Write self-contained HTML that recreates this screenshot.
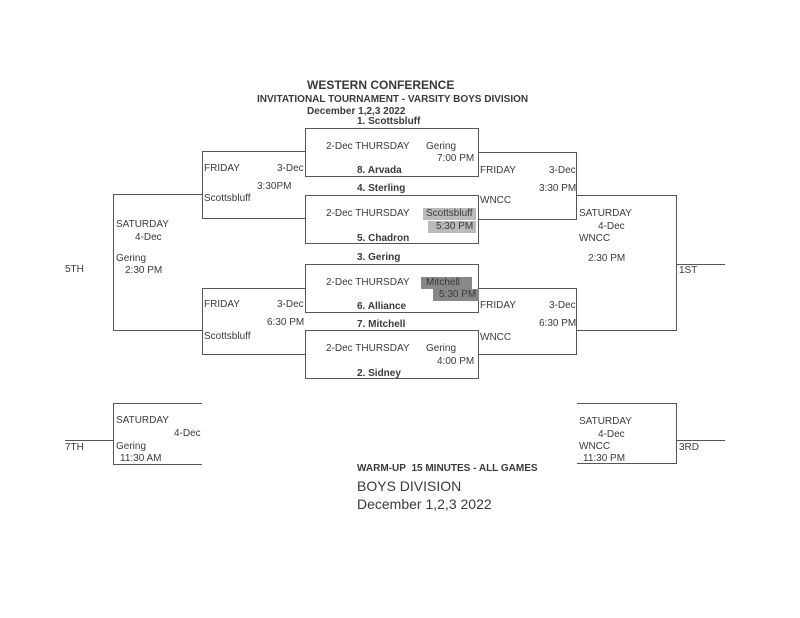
<!DOCTYPE html>
<html><head><meta charset="utf-8"><style>
body{margin:0;width:800px;height:618px;background:#fff;position:relative;overflow:hidden;font-family:"Liberation Sans",Arial,sans-serif;color:#3a3a3a;font-size:10px}
.b{position:absolute;border:1.3px solid #555;box-sizing:border-box}
.l{position:absolute;background:#555}
.t{position:absolute;white-space:nowrap;line-height:1}
.bd{font-weight:bold}
.hl{background:#bbb}
.hd{background:#888}
</style></head><body>
<div class="t bd" style="left:307px;top:79px;font-size:12px">WESTERN CONFERENCE</div>
<div class="t bd" style="left:257px;top:95px;font-size:10px">INVITATIONAL TOURNAMENT - VARSITY BOYS DIVISION</div>
<div class="t bd" style="left:307px;top:107px;font-size:10px">December 1,2,3 2022</div>

<div class="b" style="left:305px;top:128px;width:174px;height:49px"></div>
<div class="b" style="left:305px;top:195px;width:174px;height:49px"></div>
<div class="b" style="left:305px;top:264px;width:174px;height:49px"></div>
<div class="b" style="left:305px;top:330px;width:174px;height:49px"></div>

<div class="t bd" style="left:357px;top:117px;font-size:10px">1. Scottsbluff</div>
<div class="t bd" style="left:357px;top:166px;font-size:10px">8. Arvada</div>
<div class="t bd" style="left:357px;top:184px;font-size:10px">4. Sterling</div>
<div class="t bd" style="left:357px;top:234px;font-size:10px">5. Chadron</div>
<div class="t bd" style="left:357px;top:253px;font-size:10px">3. Gering</div>
<div class="t bd" style="left:357px;top:302px;font-size:10px">6. Alliance</div>
<div class="t bd" style="left:357px;top:320px;font-size:10px">7. Mitchell</div>
<div class="t bd" style="left:357px;top:369px;font-size:10px">2. Sidney</div>

<div class="t" style="left:326px;top:142px">2-Dec THURSDAY</div>
<div class="t" style="left:426px;top:142px">Gering</div>
<div class="t" style="left:437px;top:154px">7:00 PM</div>
<div class="t" style="left:326px;top:209px">2-Dec THURSDAY</div>
<div class="t hl" style="left:423px;top:208px;padding:1px 3px">Scottsbluff</div>
<div class="t hl" style="left:428px;top:221px;padding:1px 3px 1px 8px">5:30 PM</div>
<div class="t" style="left:326px;top:278px">2-Dec THURSDAY</div>
<div class="t hd" style="left:421px;top:277px;padding:1px 12px 1px 5px">Mitchell</div>
<div class="t hd" style="left:433px;top:289px;padding:1px 3px 1px 6px">5:30 PM</div>
<div class="t" style="left:326px;top:344px">2-Dec THURSDAY</div>
<div class="t" style="left:426px;top:344px">Gering</div>
<div class="t" style="left:437px;top:357px">4:00 PM</div>

<div class="l" style="left:202px;top:151px;width:103px;height:1.3px"></div>
<div class="l" style="left:202px;top:218px;width:103px;height:1.3px"></div>
<div class="l" style="left:202px;top:151px;width:1.3px;height:68px"></div>
<div class="t" style="left:204px;top:164px">FRIDAY</div>
<div class="t" style="left:277px;top:164px">3-Dec</div>
<div class="t" style="left:257px;top:182px">3:30PM</div>
<div class="t" style="left:204px;top:194px">Scottsbluff</div>

<div class="l" style="left:202px;top:288px;width:103px;height:1.3px"></div>
<div class="l" style="left:202px;top:354px;width:103px;height:1.3px"></div>
<div class="l" style="left:202px;top:288px;width:1.3px;height:67px"></div>
<div class="t" style="left:204px;top:300px">FRIDAY</div>
<div class="t" style="left:277px;top:300px">3-Dec</div>
<div class="t" style="left:267px;top:318px">6:30 PM</div>
<div class="t" style="left:204px;top:332px">Scottsbluff</div>

<div class="l" style="left:113px;top:194px;width:89px;height:1.3px"></div>
<div class="l" style="left:113px;top:330px;width:89px;height:1.3px"></div>
<div class="l" style="left:113px;top:194px;width:1.3px;height:137px"></div>
<div class="t" style="left:116px;top:220px">SATURDAY</div>
<div class="t" style="left:135px;top:233px">4-Dec</div>
<div class="t" style="left:116px;top:254px">Gering</div>
<div class="t" style="left:125px;top:266px">2:30 PM</div>
<div class="t" style="left:65px;top:265px">5TH</div>

<div class="l" style="left:478px;top:152px;width:99px;height:1.3px"></div>
<div class="l" style="left:478px;top:219px;width:99px;height:1.3px"></div>
<div class="l" style="left:576px;top:152px;width:1.3px;height:68px"></div>
<div class="t" style="left:480px;top:166px">FRIDAY</div>
<div class="t" style="left:549px;top:166px">3-Dec</div>
<div class="t" style="left:539px;top:184px">3:30 PM</div>
<div class="t" style="left:480px;top:196px">WNCC</div>

<div class="l" style="left:478px;top:288px;width:99px;height:1.3px"></div>
<div class="l" style="left:478px;top:354px;width:99px;height:1.3px"></div>
<div class="l" style="left:576px;top:288px;width:1.3px;height:67px"></div>
<div class="t" style="left:480px;top:301px">FRIDAY</div>
<div class="t" style="left:549px;top:301px">3-Dec</div>
<div class="t" style="left:539px;top:319px">6:30 PM</div>
<div class="t" style="left:480px;top:333px">WNCC</div>

<div class="l" style="left:577px;top:195px;width:99px;height:1.3px"></div>
<div class="l" style="left:577px;top:330px;width:99px;height:1.3px"></div>
<div class="l" style="left:676px;top:195px;width:1.3px;height:136px"></div>
<div class="l" style="left:676px;top:264px;width:49px;height:1.3px"></div>
<div class="t" style="left:579px;top:209px">SATURDAY</div>
<div class="t" style="left:598px;top:222px">4-Dec</div>
<div class="t" style="left:579px;top:234px">WNCC</div>
<div class="t" style="left:588px;top:254px">2:30 PM</div>
<div class="t" style="left:679px;top:266px">1ST</div>

<div class="l" style="left:113px;top:403px;width:89px;height:1.3px"></div>
<div class="l" style="left:113px;top:464px;width:89px;height:1.3px"></div>
<div class="l" style="left:113px;top:403px;width:1.3px;height:62px"></div>
<div class="l" style="left:65px;top:440px;width:48px;height:1.3px"></div>
<div class="t" style="left:116px;top:416px">SATURDAY</div>
<div class="t" style="left:174px;top:429px">4-Dec</div>
<div class="t" style="left:116px;top:442px">Gering</div>
<div class="t" style="left:120px;top:454px">11:30 AM</div>
<div class="t" style="left:65px;top:443px">7TH</div>

<div class="l" style="left:577px;top:403px;width:99px;height:1.3px"></div>
<div class="l" style="left:577px;top:463px;width:99px;height:1.3px"></div>
<div class="l" style="left:676px;top:403px;width:1.3px;height:61px"></div>
<div class="l" style="left:676px;top:440px;width:49px;height:1.3px"></div>
<div class="t" style="left:579px;top:417px">SATURDAY</div>
<div class="t" style="left:598px;top:430px">4-Dec</div>
<div class="t" style="left:579px;top:442px">WNCC</div>
<div class="t" style="left:583px;top:454px">11:30 PM</div>
<div class="t" style="left:679px;top:443px">3RD</div>

<div class="t bd" style="left:357px;top:464px;font-size:10px">WARM-UP&nbsp; 15 MINUTES - ALL GAMES</div>
<div class="t" style="left:357px;top:479px;font-size:14px">BOYS DIVISION</div>
<div class="t" style="left:357px;top:497px;font-size:14px">December 1,2,3 2022</div>
</body></html>
